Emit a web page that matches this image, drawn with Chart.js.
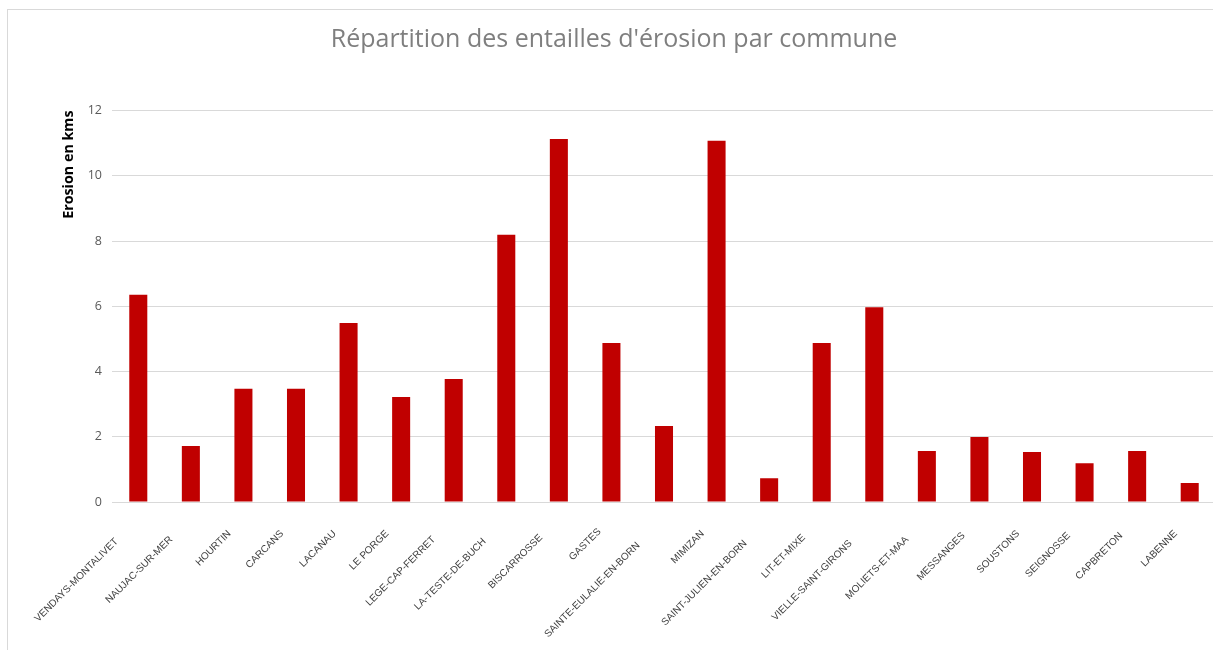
<!DOCTYPE html>
<html>
<head>
<meta charset="utf-8">
<script src="https://cdn.jsdelivr.net/npm/chart.js@4"></script>
<style>
  html, body { margin: 0; padding: 0; background: #fff; overflow: hidden; }
  #frame { position: absolute; left: 7px; top: 9px; width: 1300px; height: 700px; border: 1px solid #d9d9d9; }
  #wrap { position: absolute; left: 0; top: 0; width: 1216px; height: 650px; }
</style>
</head>
<body>
<div id="frame"></div>
<div id="wrap"><canvas id="chart"></canvas></div>
<script>
const communes = [
    'VENDAYS-MONTALIVET', 'NAUJAC-SUR-MER', 'HOURTIN', 'CARCANS', 'LACANAU', 'LE PORGE',
    'LEGE-CAP-FERRET', 'LA-TESTE-DE-BUCH', 'BISCARROSSE', 'GASTES', 'SAINTE-EULALIE-EN-BORN',
    'MIMIZAN', 'SAINT-JULIEN-EN-BORN', 'LIT-ET-MIXE', 'VIELLE-SAINT-GIRONS', 'MOLIETS-ET-MAA',
    'MESSANGES', 'SOUSTONS', 'SEIGNOSSE', 'CAPBRETON', 'LABENNE'
];
const erosionKms = [
    6.35, 1.72, 3.47, 3.47, 5.49, 3.22,
    3.77, 8.19, 11.13, 4.87, 2.33,
    11.07, 0.73, 4.87, 5.97, 1.56,
    1.99, 1.53, 1.19, 1.56, 0.58
];
const yTicks = [0, 2, 4, 6, 8, 10, 12];

document.addEventListener("DOMContentLoaded", function() {
    const ctx = document.getElementById('chart');

    const config = {
        type: 'bar',
        data: {
            labels: communes,
            datasets: [
                {
                    label: 'Erosion',
                    data: erosionKms,
                    backgroundColor: '#c00000',
                    categoryPercentage: 1,
                    barPercentage: 0.343,
                },
            ],
        },
        options: {
            responsive: true,
            maintainAspectRatio: false,
            animation: false,
            layout: { padding: { left: 12, right: 0, top: 0, bottom: 0 } },
            plugins: {
                legend: { display: false },
                tooltip: { enabled: false },
                title: {
                    display: true,
                    text: "Répartition des entailles d'érosion par commune",
                    color: '#7f7f7f',
                    font: { family: 'Open Sans', size: 25, weight: 'normal' },
                    padding: { top: 25, bottom: 55.5 },
                },
            },
            scales: {
                x: {
                    grid: { display: false },
                    border: { display: true, color: '#d9d9d9' },
                    ticks: {
                        autoSkip: false,
                        maxRotation: 45,
                        minRotation: 45,
                        padding: 12,
                        labelOffset: -8,
                        color: '#404040',
                        font: { family: 'Liberation Sans', size: 10 },
                        // longer names sit further down-left, like in the original
                        callback: function(value) {
                            const name = communes[value];
                            return name + '\u00a0'.repeat(Math.round(name.length * 0.41));
                        },
                    },
                    afterFit: function(scale) { scale.height = 148; },
                },
                y: {
                    min: 0,
                    max: 12,
                    afterBuildTicks: function(scale) {
                        scale.ticks = yTicks.map(v => ({ value: v }));
                    },
                    grid: { color: '#d9d9d9', drawTicks: false },
                    border: { display: false },
                    ticks: {
                        padding: 10,
                        color: '#595959',
                        font: { family: 'Open Sans', size: 12.5 },
                    },
                    title: {
                        display: true,
                        text: 'Erosion en kms',
                        align: 'end',
                        color: '#000',
                        font: { family: 'Open Sans', size: 14.3, weight: 'bold' },
                        padding: { top: 48, bottom: 4 },
                    },
                    afterFit: function(scale) { scale.width = 100; },
                },
            },
        },
    };

    window.myChart = new Chart(ctx, config);
});
</script>
</body>
</html>
